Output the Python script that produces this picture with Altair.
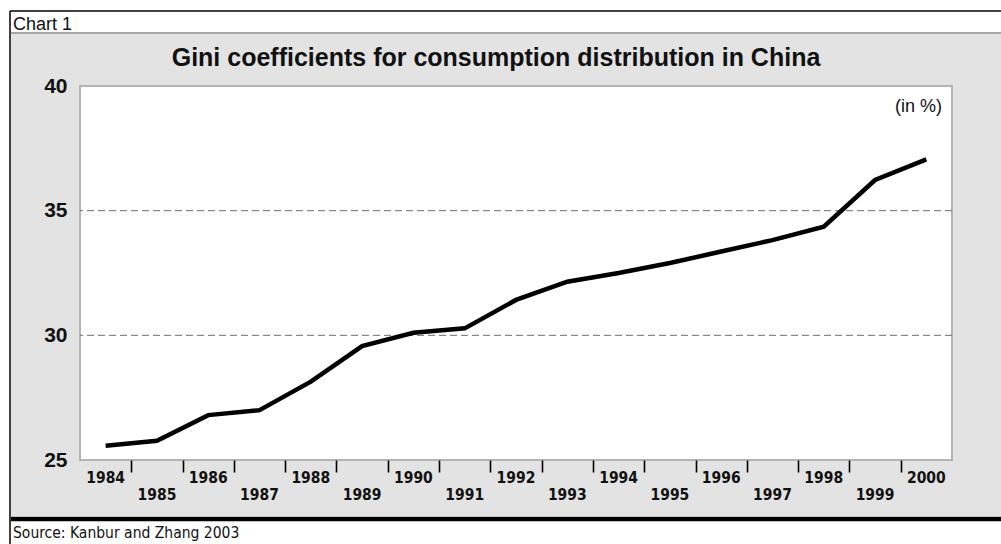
import altair as alt
import pandas as pd

# Gini coefficients for consumption distribution in China (in %)
years = [1984, 1985, 1986, 1987, 1988, 1989, 1990, 1991, 1992,
         1993, 1994, 1995, 1996, 1997, 1998, 1999, 2000]
gini = [25.57, 25.77, 26.8, 27.0, 28.14, 29.57, 30.1, 30.28, 31.42,
        32.15, 32.5, 32.9, 33.36, 33.82, 34.36, 36.23, 37.06]
y_ticks = [25, 30, 35, 40]
grid_levels = [30, 35]

title_text = "Gini coefficients for consumption distribution in China"
chart_label = "Chart 1"
unit_text = "(in %)"
source_text = "Source: Kanbur and Zhang 2003"

FONT = "Liberation Sans"
NARROW = "DejaVu Sans Condensed, Liberation Sans"

W, H = 872, 374
PAD = {"left": 80, "top": 86, "right": 49, "bottom": 84}

series = pd.DataFrame({"year": years, "gini": gini})
labels = pd.DataFrame({"year": years, "label": [str(y) for y in years]})
grid = pd.DataFrame({"gini": grid_levels})
frame = pd.DataFrame({"year": [years[0] - 0.5], "year2": [years[-1] + 0.5],
                      "gini": [y_ticks[0]], "gini2": [y_ticks[-1]]})
one = pd.DataFrame({"k": [0]})

x_scale = alt.Scale(domain=[years[0] - 0.5, years[-1] + 0.5], nice=False, zero=False)
y_scale = alt.Scale(domain=[y_ticks[0], y_ticks[-1]], nice=False, zero=False)

x_axis = alt.Axis(values=[y + 0.5 for y in years[:-1]], labels=False, ticks=True,
                  tickSize=12, tickWidth=1.6, tickColor="black", domain=False,
                  grid=False, title=None, zindex=2)
y_axis = alt.Axis(values=y_ticks, ticks=False, domain=False, grid=False, title=None,
                  labelFont=FONT, labelFontSize=21, labelFontWeight="bold",
                  labelColor="#111111", labelPadding=13, zindex=2)

X = alt.X("year:Q", scale=x_scale, axis=x_axis)
Y = alt.Y("gini:Q", scale=y_scale, axis=y_axis)

# grey panel behind the plot
panel = alt.Chart(one).mark_rect(fill="#e3e3e3").encode(
    x=alt.value(-69), x2=alt.value(W + PAD["right"]),
    y=alt.value(-53), y2=alt.value(H + 56))
panel_sep = alt.Chart(one).mark_rule(color="#a8a8a8", strokeWidth=2).encode(
    x=alt.value(-69), x2=alt.value(W + PAD["right"]), y=alt.value(-53))
top_border = alt.Chart(one).mark_rule(color="black", strokeWidth=1.5).encode(
    x=alt.value(-70), x2=alt.value(W + PAD["right"]), y=alt.value(-75))
left_border = alt.Chart(one).mark_rule(color="black", strokeWidth=1.5).encode(
    x=alt.value(-70), y=alt.value(-75), y2=alt.value(H + PAD["bottom"]))
bottom_bar = alt.Chart(one).mark_rule(color="black", strokeWidth=4.5).encode(
    x=alt.value(-69), x2=alt.value(W + PAD["right"]), y=alt.value(H + 59))

# white plotting area
plot_bg = alt.Chart(frame).mark_rect(fill="white", stroke="#b4b4b4", strokeWidth=2).encode(
    x=X, x2="year2", y=Y, y2="gini2")

gridlines = alt.Chart(grid).mark_rule(color="#6e6e6e", strokeWidth=1,
                                      strokeDash=[7, 4]).encode(y=Y)

line = alt.Chart(series).mark_line(color="black", strokeWidth=4.5).encode(x=X, y=Y)

label_style = dict(font=NARROW, fontSize=15.5, fontWeight="bold", color="#111111",
                   baseline="middle", align="center")
even_labels = alt.Chart(labels).transform_filter("datum.year % 2 == 0").mark_text(
    **label_style).encode(x=X, y=alt.value(H + 18), text="label:N")
odd_labels = alt.Chart(labels).transform_filter("datum.year % 2 == 1").mark_text(
    **label_style).encode(x=X, y=alt.value(H + 35), text="label:N")

title = alt.Chart(one).mark_text(text=title_text, font=FONT, fontSize=25,
                                 fontWeight="bold", color="#111111",
                                 baseline="middle", align="center").encode(
    x=alt.value(416), y=alt.value(-28))
chart_tag = alt.Chart(one).mark_text(text=chart_label, font=FONT, fontSize=18,
                                     color="#111111", baseline="middle",
                                     align="left").encode(
    x=alt.value(-67), y=alt.value(-61))
unit = alt.Chart(one).mark_text(text=unit_text, font=FONT, fontSize=18,
                                color="#111111", baseline="middle",
                                align="right").encode(
    x=alt.value(W - 10), y=alt.value(21))
source = alt.Chart(one).mark_text(text=source_text, font=NARROW, fontSize=15.5,
                                  color="#111111", baseline="middle",
                                  align="left").encode(
    x=alt.value(-67), y=alt.value(H + 73))

chart = alt.layer(
    panel, panel_sep, top_border, left_border, bottom_bar, plot_bg, gridlines,
    line, even_labels, odd_labels, title, chart_tag, unit, source
).properties(
    width=W, height=H, padding=PAD,
    autosize=alt.AutoSizeParams(type="none"), background="white"
).configure_view(strokeWidth=0)

chart.save("out.html", embed_options={"renderer": "svg", "actions": False})
